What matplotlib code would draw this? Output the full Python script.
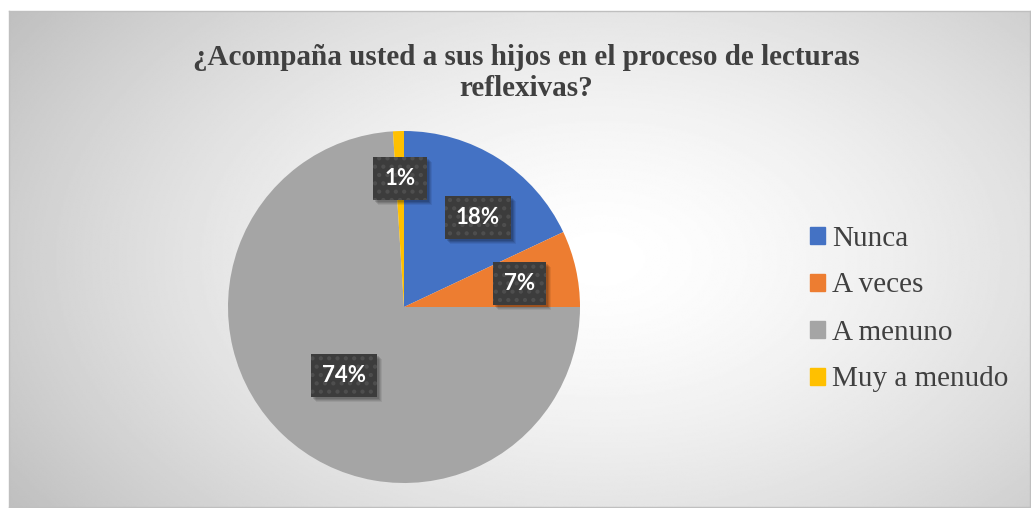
import numpy as np
import matplotlib.pyplot as plt
from matplotlib.patches import Rectangle

# survey answers
categories = ["Nunca", "A veces", "A menuno", "Muy a menudo"]
shares = [18, 7, 74, 1]
colors = ["#4472C4", "#ED7D31", "#A5A5A5", "#FFC000"]
label_dist = [0.66, 0.67, 0.52, 0.73]
label_shift = [-7, -1, 2, 0]  # degrees, nudges away from the slice middle
title = "¿Acompaña usted a sus hijos en el proceso de lecturas\nreflexivas?"

plt.rcParams["hatch.linewidth"] = 1.8

fig = plt.figure(figsize=(10.31, 5.08), dpi=100)
fig.patch.set_facecolor("white")

# radial gradient background in the chart frame
bg = fig.add_axes([9 / 1031, 1 / 508, 1021 / 1031, 496 / 508])
yy, xx = np.mgrid[0:1:300j, 0:1:600j]
rr = np.sqrt(((xx - 0.58) / 0.62) ** 2 + ((yy - 0.5) / 0.8) ** 2)
shade = 1.0 - 0.21 * np.clip(rr, 0, 1.2) ** 1.5
bg.imshow(shade, cmap="gray", vmin=0, vmax=1, aspect="auto", extent=[0, 1, 0, 1],
          interpolation="bilinear")
bg.set_xticks([])
bg.set_yticks([])
for s in bg.spines.values():
    s.set_color("#bfbfbf")
    s.set_linewidth(1)

fig.text(526 / 1031, 1 - 73 / 508, title, ha="center", va="center",
         fontsize=21, fontweight="bold", family="Liberation Serif", color="#404040",
         linespacing=1.17)

# pie
ax = fig.add_axes([(404 - 176) / 1031, 1 - (307 + 176) / 508, 352 / 1031, 352 / 508])
wedges, _ = ax.pie(shares, colors=colors, startangle=90, counterclock=False,
                   radius=1, wedgeprops=dict(linewidth=0))
ax.set_xlim(-1, 1)
ax.set_ylim(-1, 1)
ax.set_aspect("equal")

labels = []
for w, val, d, sh in zip(wedges, shares, label_dist, label_shift):
    ang = np.deg2rad((w.theta1 + w.theta2) / 2 + sh)
    x, y = d * np.cos(ang), d * np.sin(ang)
    t = ax.text(x, y, f"{val}%", ha="center", va="center", fontsize=16,
                fontweight="bold", family="Lato", color="white", zorder=5,
                bbox=dict(boxstyle="square,pad=0.5", facecolor="#3c3c3c",
                          edgecolor="#4e4e4e", hatch="..", linewidth=0))
    labels.append(t)

# soft drop shadows under the label boxes
fig.canvas.draw()
inv = ax.transData.inverted()
for t in labels:
    ext = t.get_bbox_patch().get_window_extent()
    for k, a in [(5, 0.07), (4, 0.09), (3, 0.11), (2, 0.12)]:
        (x0, y0), (x1, y1) = inv.transform([(ext.x0 + k, ext.y0 - k), (ext.x1 + k, ext.y1 - k)])
        ax.add_patch(Rectangle((x0, y0), x1 - x0, y1 - y0, facecolor="black",
                               alpha=a, linewidth=0, zorder=4))

# legend
handles = [plt.Rectangle((0, 0), 1, 1, color=c) for c in colors]
leg = fig.legend(handles, categories, loc="center left",
                 bbox_to_anchor=(784 / 1031, 1 - 309 / 508), frameon=False,
                 prop=dict(family="Liberation Serif", size=21),
                 labelcolor="#404040", handlelength=0.52, handleheight=0.52,
                 handletextpad=0.22, labelspacing=0.72)

fig.savefig("out.png", dpi=100)
